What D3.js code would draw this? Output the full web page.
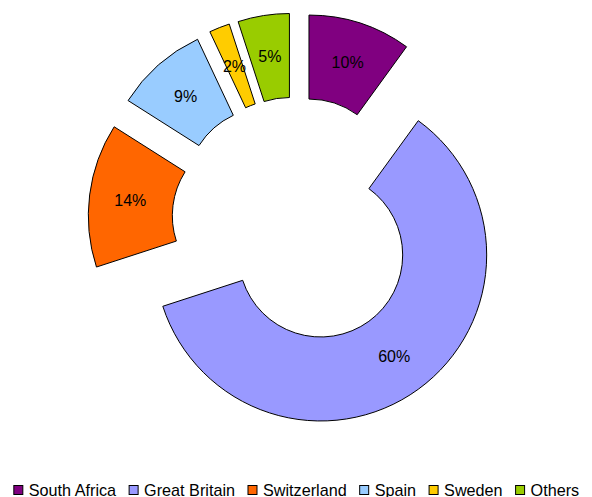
<!DOCTYPE html>
<html>
<head>
<meta charset="utf-8">
<script src="https://cdn.jsdelivr.net/npm/d3@7"></script>
<style>
  body { margin: 0; background: #fff; }
  text { font-family: "Liberation Sans", Arial, sans-serif; fill: #000; }
</style>
</head>
<body>
<svg id="chart"></svg>
<script>
// values
const categories = ["South Africa", "Great Britain", "Switzerland", "Spain", "Sweden", "Others"];
const shares = [10, 60, 14, 9, 2, 5];
const sliceColors = ["#800080", "#9999FF", "#FF6600", "#99CCFF", "#FFCC00", "#99CC00"];

const W = 592, H = 497;
const cx = 296, cy = 221;
const outerR = 166, innerR = 82, explode = 42, labelR = 125;

const svg = d3.select("#chart").attr("width", W).attr("height", H);

const DATA = categories.map((name, i) => ({ name, value: shares[i], color: sliceColors[i] }));
const pie = d3.pie().sort(null).value(d => d.value);
const arcs = pie(DATA);
const segment = d3.arc().innerRadius(innerR).outerRadius(outerR);
const labelArc = d3.arc().innerRadius(labelR).outerRadius(labelR);

function shift(d) {
  const a = (d.startAngle + d.endAngle) / 2;
  return [explode * Math.sin(a), -explode * Math.cos(a)];
}

const g = svg.append("g").attr("transform", `translate(${cx},${cy})`);

g.selectAll("path").data(arcs).enter().append("path")
  .attr("d", segment)
  .attr("transform", d => `translate(${shift(d)})`)
  .attr("fill", d => d.data.color)
  .attr("stroke", "#000")
  .attr("stroke-width", 1);

g.selectAll("text.lbl").data(arcs).enter().append("text")
  .attr("class", "lbl")
  .attr("transform", d => {
    const c = labelArc.centroid(d), s = shift(d);
    return `translate(${c[0] + s[0]},${c[1] + s[1]})`;
  })
  .attr("text-anchor", "middle")
  .attr("dy", "0.38em")
  .style("font-size", "16px")
  .text(d => d.data.value + "%");

// legend, centered under the chart
const legend = svg.append("g");
const items = legend.selectAll("g").data(DATA).enter().append("g");
items.append("rect").attr("width", 9).attr("height", 9)
  .attr("fill", d => d.color).attr("stroke", "#000").attr("stroke-width", 1);
items.append("text").attr("x", 15).attr("y", 10)
  .style("font-size", "16.2px")
  .text(d => d.name);

let x = 0;
items.each(function () {
  const w = d3.select(this).select("text").node().getComputedTextLength();
  d3.select(this).attr("transform", `translate(${x},0)`);
  x += 15 + w + 13;
});
const total = x - 13;
legend.attr("transform", `translate(${(W - total) / 2 + 0.5},485.5)`);
</script>
</body>
</html>
